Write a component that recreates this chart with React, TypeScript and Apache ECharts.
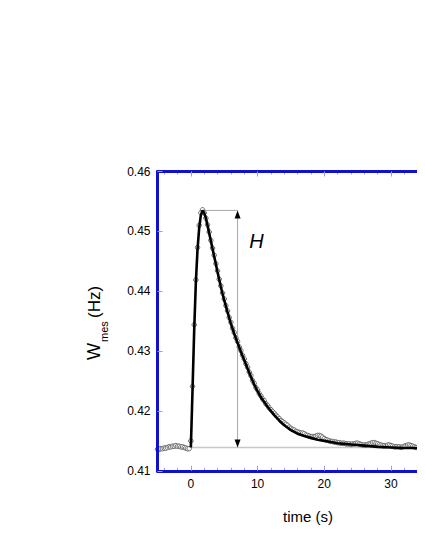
import React, { useEffect, useRef } from "react";
import * as echarts from "echarts";

// ---- data ----
const xMin = -5;
const xMax = 33.9; // right edge of the visible (cut) frame
const yMin = 0.41;
const yMax = 0.46;
const yTickStep = 0.01;

const majorXTicks = [0, 10, 20, 30];
const minorXTicks = [-4, -2, 2, 4, 6, 8, 12, 14, 16, 18, 22, 24, 26, 28, 32];

// measured samples: start time and sampling step (s)
const dataStart = -5;
const dataStep = 0.25;
const dataV = [
  0.4136, 0.4136, 0.4137, 0.4137, 0.4138, 0.4138, 0.4139, 0.414, 0.414, 0.4141,
  0.4141, 0.4142, 0.4141, 0.4141, 0.414, 0.414, 0.4139, 0.4138, 0.4137, 0.4137,
  0.415, 0.4241, 0.4344, 0.4419, 0.4473, 0.451, 0.4531, 0.4536, 0.4531, 0.4522,
  0.4511, 0.4499, 0.4485, 0.4472, 0.446, 0.4446, 0.4434, 0.442, 0.4409, 0.4397,
  0.4387, 0.4376, 0.4367, 0.4356, 0.4348, 0.4338, 0.4331, 0.4322, 0.4316, 0.4307,
  0.4301, 0.4293, 0.4287, 0.4279, 0.4273, 0.4265, 0.4259, 0.4251, 0.4246, 0.4239,
  0.4235, 0.4229, 0.4225, 0.422, 0.4217, 0.4212, 0.4209, 0.4205, 0.4202, 0.4199,
  0.4196, 0.4193, 0.419, 0.4187, 0.4184, 0.4182, 0.418, 0.4178, 0.4176, 0.4173,
  0.4171, 0.4169, 0.4168, 0.4166, 0.4165, 0.4164, 0.4163, 0.4163, 0.4162, 0.416,
  0.4159, 0.4158, 0.4157, 0.4157, 0.4157, 0.4158, 0.4159, 0.4159, 0.4158, 0.4156,
  0.4154, 0.4152, 0.4151, 0.415, 0.4149, 0.4149, 0.4148, 0.4148, 0.4147, 0.4147,
  0.4146, 0.4146, 0.4146, 0.4145, 0.4145, 0.4145, 0.4144, 0.4145, 0.4145, 0.4146,
  0.4146, 0.4145, 0.4144, 0.4143, 0.4143, 0.4143, 0.4144, 0.4145, 0.4146, 0.4147,
  0.4147, 0.4146, 0.4145, 0.4144, 0.4143, 0.4142, 0.4142, 0.4142, 0.4143, 0.4143,
  0.4142, 0.4141, 0.414, 0.414, 0.414, 0.414, 0.4139, 0.414, 0.4141, 0.4142,
  0.4143, 0.4143, 0.4142, 0.4141, 0.414, 0.4139, 0.4139, 0.414, 0.4141, 0.414,
  0.4139, 0.4139, 0.4139, 0.4138, 0.4138,
];

// fitted curve
const fitT = [
  0, 0.25, 0.5, 0.75, 1, 1.25, 1.5, 1.75, 2, 2.25, 2.5, 2.75, 3, 3.5, 4, 4.5, 5, 5.5, 6,
  6.5, 7, 7.5, 8, 8.5, 9, 9.5, 10, 10.5, 11, 11.5, 12, 12.5, 13, 13.5, 14, 15, 16, 17,
  18, 19, 20, 21, 22, 23, 24, 26, 28, 30, 32, 34, 36,
];
const fitV = [
  0.4139, 0.4235, 0.4335, 0.4415, 0.447, 0.4506, 0.4527, 0.4535, 0.4531, 0.4522, 0.451,
  0.4497, 0.4484, 0.4458, 0.4432, 0.4407, 0.4385, 0.4365, 0.4346, 0.4329, 0.4314, 0.4299,
  0.4285, 0.4271, 0.4257, 0.4244, 0.4233, 0.4223, 0.4215, 0.4207, 0.42, 0.4193, 0.4187,
  0.4181, 0.4176, 0.4168, 0.4162, 0.4158, 0.4155, 0.4152, 0.415, 0.4148, 0.4146, 0.4145,
  0.4144, 0.4142, 0.414, 0.4139, 0.4138, 0.4138, 0.4137,
];

// annotation values
const peakT = 1.75;
const peakV = 0.4535;
const arrowT = 7;
const baseV = 0.4139;
const baseStartT = 0;
const hLabelT = 9.85;
const hLabelV = 0.4484;
const hLabel = "H";

const FONT = "Liberation Sans, Arial, Helvetica, sans-serif";
const BLUE = "#1111cc";
const TICK = "#9a9af0";

export default function App() {
  const ref = useRef<HTMLDivElement>(null);

  useEffect(() => {
    if (!ref.current) return;
    const chart = echarts.init(ref.current, undefined, { renderer: "svg" });

    const dataPts = dataV.map((v, i) => [dataStart + i * dataStep, v]);
    const fitPts = fitT.map((t, i) => [t, fitV[i]]);

    const frameLine = {
      show: true,
      onZero: false,
      lineStyle: { color: BLUE, width: 3 },
    };

    const xBase = {
      type: "value" as const,
      min: xMin,
      max: xMax,
      splitLine: { show: false },
      axisLine: { show: false, onZero: false },
    };

    const option: any = {
      animation: false,
      backgroundColor: "#fff",
      textStyle: { fontFamily: FONT },
      grid: {
        left: 149.5,
        top: 163.5,
        right: 0,
        bottom: 71.2,
        show: false,
      },
      xAxis: [
        {
          ...xBase,
          position: "bottom",
          axisLine: frameLine,
          axisTick: {
            show: true,
            inside: true,
            length: 5,
            customValues: majorXTicks,
            lineStyle: { color: TICK, width: 1 },
          },
          axisLabel: {
            show: true,
            customValues: majorXTicks,
            fontSize: 12,
            color: "#000",
            margin: 7,
            fontFamily: FONT,
          },
          z: 5,
        },
        {
          ...xBase,
          position: "bottom",
          axisTick: {
            show: true,
            inside: true,
            length: 3,
            customValues: minorXTicks,
            lineStyle: { color: TICK, width: 1 },
          },
          axisLabel: { show: false },
        },
        {
          ...xBase,
          position: "top",
          axisLine: frameLine,
          axisTick: {
            show: true,
            inside: true,
            length: 5,
            customValues: majorXTicks,
            lineStyle: { color: TICK, width: 1 },
          },
          axisLabel: { show: false },
          z: 5,
        },
        {
          ...xBase,
          position: "top",
          axisTick: {
            show: true,
            inside: true,
            length: 3,
            customValues: minorXTicks,
            lineStyle: { color: TICK, width: 1 },
          },
          axisLabel: { show: false },
        },
      ],
      yAxis: {
        type: "value",
        position: "left",
        min: yMin,
        max: yMax,
        interval: yTickStep,
        splitLine: { show: false },
        axisLine: frameLine,
        axisTick: { show: true, inside: true, length: 5, lineStyle: { color: TICK, width: 1 } },
        axisLabel: {
          fontSize: 12,
          color: "#000",
          margin: 7,
          fontFamily: FONT,
          formatter: (v: number) => v.toFixed(2),
        },
        z: 5,
      },
      series: [
        {
          type: "line",
          xAxisIndex: 0,
          data: [
            [baseStartT, baseV],
            [xMax, baseV],
          ],
          symbol: "none",
          lineStyle: { color: "#c8c8c8", width: 1.5 },
          z: 1,
        },
        {
          type: "line",
          xAxisIndex: 0,
          data: [
            [peakT, peakV],
            [arrowT, peakV],
          ],
          symbol: "none",
          lineStyle: { color: "#a8a8a8", width: 1 },
          z: 1,
        },
        {
          type: "line",
          xAxisIndex: 0,
          data: [
            [arrowT, peakV],
            [arrowT, baseV],
          ],
          symbol: "none",
          lineStyle: { color: "#a8a8a8", width: 1 },
          z: 1,
        },
        {
          type: "scatter",
          xAxisIndex: 0,
          data: dataPts,
          symbol: "circle",
          symbolSize: 4.5,
          itemStyle: { color: "#fff", borderColor: "#666", borderWidth: 1, opacity: 1 },
          z: 2,
        },
        {
          type: "line",
          xAxisIndex: 0,
          data: fitPts,
          symbol: "none",
          lineStyle: { color: "#000", width: 2.6 },
          z: 3,
        },
        {
          type: "scatter",
          xAxisIndex: 0,
          data: [[arrowT, peakV]],
          symbol: "triangle",
          symbolSize: [6, 8],
          symbolOffset: [0, 4],
          itemStyle: { color: "#000", opacity: 1 },
          z: 4,
        },
        {
          type: "scatter",
          xAxisIndex: 0,
          data: [[arrowT, baseV]],
          symbol: "triangle",
          symbolSize: [6, 8],
          symbolRotate: 180,
          symbolOffset: [0, -4],
          itemStyle: { color: "#000", opacity: 1 },
          z: 4,
        },
        {
          type: "scatter",
          xAxisIndex: 0,
          data: [[hLabelT, hLabelV]],
          symbolSize: 0,
          itemStyle: { opacity: 1 },
          label: {
            show: true,
            position: "inside",
            formatter: hLabel,
            fontSize: 20,
            fontStyle: "italic",
            fontFamily: FONT,
            color: "#000",
          },
          z: 4,
        },
      ],
      graphic: [
        {
          type: "group",
          x: 86,
          y: 352,
          rotation: Math.PI / 2,
          children: [
            {
              type: "text",
              x: 0,
              y: 0,
              style: {
                text: "W",
                font: `18px ${FONT}`,
                fill: "#000",
                textAlign: "left",
                textVerticalAlign: "middle",
              },
            },
            {
              type: "text",
              x: 18,
              y: 10,
              style: {
                text: "mes",
                font: `11px ${FONT}`,
                fill: "#000",
                textAlign: "left",
                textVerticalAlign: "middle",
              },
            },
            {
              type: "text",
              x: 42,
              y: 0,
              style: {
                text: "(Hz)",
                font: `17px ${FONT}`,
                fill: "#000",
                textAlign: "left",
                textVerticalAlign: "middle",
              },
            },
          ],
        },
        {
          type: "text",
          x: 300,
          y: 508,
          style: {
            text: "time (s)",
            font: `15px ${FONT}`,
            fill: "#000",
            textAlign: "center",
            textVerticalAlign: "middle",
          },
        },
      ],
    };

    chart.setOption(option);
    return () => chart.dispose();
  }, []);

  return <div ref={ref} style={{ width: 409, height: 534 }} />;
}
